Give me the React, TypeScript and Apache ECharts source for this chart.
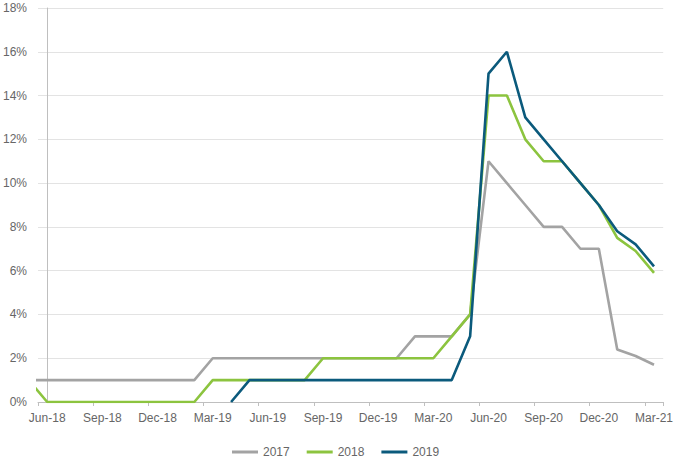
import React, { useEffect, useRef } from "react";
import * as echarts from "echarts";

// Monthly points; the first (May-18) lies just left of the visible axis and is clipped.
const months = [
  "May-18", "Jun-18", "Jul-18", "Aug-18", "Sep-18", "Oct-18", "Nov-18", "Dec-18",
  "Jan-19", "Feb-19", "Mar-19", "Apr-19", "May-19", "Jun-19", "Jul-19", "Aug-19",
  "Sep-19", "Oct-19", "Nov-19", "Dec-19", "Jan-20", "Feb-20", "Mar-20", "Apr-20",
  "May-20", "Jun-20", "Jul-20", "Aug-20", "Sep-20", "Oct-20", "Nov-20", "Dec-20",
  "Jan-21", "Feb-21", "Mar-21",
];

const s2017 = [
  1,
  1, 1, 1, 1, 1, 1, 1, 1, 1,
  2, 2, 2, 2, 2, 2, 2, 2, 2, 2, 2,
  3, 3, 3, 4, 11, 10, 9, 8, 8, 7, 7,
  2.4, 2.1, 1.7,
];

const s2018 = [
  1,
  0, 0, 0, 0, 0, 0, 0, 0, 0,
  1, 1, 1, 1, 1, 1,
  2, 2, 2, 2, 2, 2, 2,
  3, 4, 14, 14, 12, 11, 11, 10, 9,
  7.5, 6.9, 5.9,
];

const s2019 = [
  null, null, null, null, null, null, null, null, null, null, null,
  0,
  1, 1, 1, 1, 1, 1, 1, 1, 1, 1, 1, 1,
  3, 15, 16, 13, 12, 11, 10, 9,
  7.8, 7.2, 6.2,
];

const seriesNames = ["2017", "2018", "2019"];
const seriesData = [s2017, s2018, s2019];
const colors = ["#a3a3a3", "#8cc43f", "#0b5a7c"];

const yTicks = { min: 0, max: 18, interval: 2 };

export default function App() {
  const ref = useRef<HTMLDivElement>(null);
  useEffect(() => {
    if (!ref.current) return;
    const chart = echarts.init(ref.current, null, { renderer: "svg" });
    const axisCats = months.slice(1);
    const font = "'Liberation Sans', Arial, sans-serif";
    const txt = "#666666";
    chart.setOption({
      animation: false,
      textStyle: { fontFamily: font },
      grid: { left: 38, right: 12, top: 8, bottom: 58, containLabel: false },
      legend: {
        top: 446,
        left: 232,
        padding: 0,
        itemWidth: 26,
        itemHeight: 3,
        itemGap: 17,
        icon: "rect",
        textStyle: { color: txt, fontSize: 12, fontFamily: font },
        data: seriesNames,
      },
      xAxis: [
        {
          type: "category",
          data: axisCats,
          boundaryGap: true,
          axisLine: { lineStyle: { color: "#bfbfbf", width: 1 } },
          axisTick: { show: true, interval: 2, length: 4, lineStyle: { color: "#bfbfbf" } },
          axisLabel: { interval: 2, color: txt, fontSize: 12, margin: 10, fontFamily: font },
          splitLine: { show: false },
        },
        {
          type: "value",
          min: -0.5,
          max: axisCats.length - 0.5,
          show: false,
        },
      ],
      yAxis: {
        type: "value",
        min: yTicks.min,
        max: yTicks.max,
        interval: yTicks.interval,
        axisLine: { show: true, lineStyle: { color: "#bfbfbf", width: 1 } },
        axisTick: { show: false },
        axisLabel: {
          color: txt,
          fontSize: 12,
          margin: 11,
          fontFamily: font,
          formatter: (v: number) => `${v}%`,
        },
        splitLine: { lineStyle: { color: "#e3e3e3", width: 1 } },
      },
      series: seriesNames.map((name, si) => ({
        name,
        type: "line",
        xAxisIndex: 1,
        yAxisIndex: 0,
        clip: true,
        showSymbol: false,
        symbol: "none",
        connectNulls: false,
        color: colors[si],
        lineStyle: { width: 2.6, color: colors[si] },
        data: seriesData[si].map((v, i) => [i - 1, v]),
      })),
    });
    return () => chart.dispose();
  }, []);
  return (
    <div
      ref={ref}
      style={{ position: "fixed", left: 0, top: 0, width: 676, height: 460, background: "#fff" }}
    />
  );
}
